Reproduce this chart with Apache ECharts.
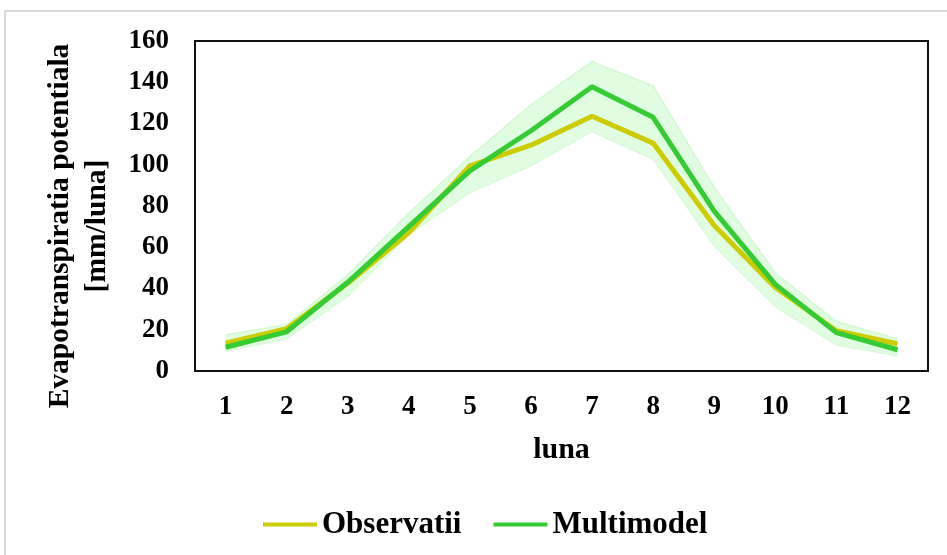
<!DOCTYPE html>
<html>
<head>
<meta charset="utf-8">
<script src="https://cdn.jsdelivr.net/npm/echarts@6/dist/echarts.min.js"></script>
<style>
  html, body { margin: 0; padding: 0; background: #ffffff; }
  #chart { width: 947px; height: 555px; }
</style>
</head>
<body>
<div id="chart"></div>
<script>
// Months of the year
const months = ['1', '2', '3', '4', '5', '6', '7', '8', '9', '10', '11', '12'];

// Monthly potential evapotranspiration [mm/luna]
const observatii = [13.5, 20.5, 42.5, 67, 99.5, 109.5, 123.5, 110.5, 70.5, 40.5, 19.5, 13.2];
const multimodel = [11.5, 19, 43, 70, 97, 116.5, 137.8, 123, 77.5, 42, 18.6, 10.3];

// Multimodel spread (min / max of the ensemble)
const spreadMax = [17.4, 22.5, 46.5, 76.5, 104, 129, 150, 138.2, 89, 47.5, 24, 15.5];
const spreadMin = [9.5, 15.5, 36, 66, 86.4, 99.4, 116, 102.6, 60.5, 31, 12.5, 7.3];

// Y axis range
const yMin = 0, yMax = 160, yStep = 20;

const spreadHeight = spreadMax.map((v, i) => +(v - spreadMin[i]).toFixed(2));

const FONT = 'Liberation Serif';
const chart = echarts.init(document.getElementById('chart'), null, { renderer: 'canvas' });

chart.setOption({
  backgroundColor: '#ffffff',
  animation: false,
  textStyle: { fontFamily: FONT },
  grid: {
    left: 195, top: 41, width: 733, height: 330,
    show: true, borderColor: '#111111', borderWidth: 2,
    backgroundColor: 'transparent'
  },
  legend: {
    left: 258, top: 504,
    itemWidth: 54, itemHeight: 4, itemGap: 32,
    textStyle: { fontFamily: FONT, fontWeight: 'bold', fontSize: 31, color: '#000' },
    data: [
      { name: 'Observatii', icon: 'rect', itemStyle: { color: '#cccc00' } },
      { name: 'Multimodel', icon: 'rect', itemStyle: { color: '#33cc33' } }
    ]
  },
  xAxis: {
    type: 'category',
    data: months,
    boundaryGap: true,
    axisLine: { show: false },
    axisTick: { show: false },
    axisLabel: { margin: 23, fontFamily: FONT, fontWeight: 'bold', fontSize: 27, color: '#000' },
    name: 'luna',
    nameLocation: 'middle',
    nameGap: 64,
    nameTextStyle: { fontFamily: FONT, fontWeight: 'bold', fontSize: 30, color: '#000' },
    splitLine: { show: false }
  },
  yAxis: {
    type: 'value',
    min: yMin, max: yMax, interval: yStep,
    axisLine: { show: false },
    axisTick: { show: false },
    splitLine: { show: false },
    axisLabel: { margin: 26, fontFamily: FONT, fontWeight: 'bold', fontSize: 27, color: '#000' }
  },
  graphic: [
    {
      type: 'rect', z: -10, silent: true,
      shape: { x: 5, y: 11, width: 1000, height: 600 },
      style: { fill: 'none', stroke: '#d9d9d9', lineWidth: 2 }
    },
    {
      type: 'text', silent: true,
      x: 79, y: 226, rotation: Math.PI / 2,
      style: {
        text: 'Evapotranspiratia potentiala\n[mm/luna]',
        font: 'bold 29.5px "Liberation Serif"',
        fill: '#000',
        textAlign: 'center', textVerticalAlign: 'middle',
        align: 'center', verticalAlign: 'middle',
        lineHeight: 37
      }
    }
  ],
  series: [
    {
      name: 'spreadBase', type: 'line', stack: 'spread',
      data: spreadMin, symbol: 'none', silent: true,
      lineStyle: { width: 1, color: '#d6f9d6' },
      areaStyle: { opacity: 0 }, z: 1
    },
    {
      name: 'spread', type: 'line', stack: 'spread',
      data: spreadHeight, symbol: 'none', silent: true,
      lineStyle: { width: 1.5, color: '#d4f8d4' },
      areaStyle: { color: '#e1fde1', opacity: 1 }, z: 1
    },
    {
      name: 'Observatii', type: 'line', data: observatii,
      symbol: 'none', color: '#cccc00',
      lineStyle: { width: 5, color: '#cccc00' }, z: 3
    },
    {
      name: 'Multimodel', type: 'line', data: multimodel,
      symbol: 'none', color: '#33cc33',
      lineStyle: { width: 5, color: '#33cc33' }, z: 4
    }
  ]
});
</script>
</body>
</html>
